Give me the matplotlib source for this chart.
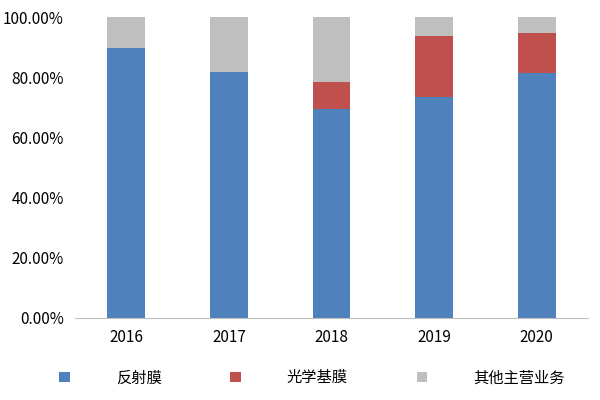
import matplotlib
matplotlib.use("Agg")
import matplotlib.pyplot as plt
import numpy as np

plt.rcParams['font.family'] = ['Noto Sans CJK SC', 'DejaVu Sans']

years = ['2016', '2017', '2018', '2019', '2020']
fanshemo = [89.7, 81.7, 69.4, 73.4, 81.4]
guangxue = [0.0, 0.0, 9.0, 20.3, 13.3]
qita = [10.3, 18.3, 21.6, 6.3, 5.3]

fig = plt.figure(figsize=(6, 4), dpi=100)
ax = fig.add_axes([0.125, 0.205, 0.855, 0.752])
x = np.arange(len(years))
w = 0.37
ax.bar(x, fanshemo, w, color='#4F81BD', label='反射膜')
ax.bar(x, guangxue, w, bottom=fanshemo, color='#C0504D', label='光学基膜')
ax.bar(x, qita, w, bottom=np.array(fanshemo) + np.array(guangxue), color='#BFBFBF', label='其他主营业务')
ax.set_ylim(0, 100)
ax.set_xlim(-0.5, 4.5)
ax.set_yticks(np.arange(0, 101, 20))
ax.set_yticklabels([f'{v:.2f}%' for v in range(0, 101, 20)], fontsize=11)
ax.set_xticks(x)
ax.set_xticklabels(years, fontsize=11)
for s in ['top', 'right', 'left']:
    ax.spines[s].set_visible(False)
ax.spines['bottom'].set_color('#BFBFBF')
ax.tick_params(axis='both', length=0, pad=8)
fig.legend(loc='lower center', ncol=3, frameon=False, fontsize=11,
           bbox_to_anchor=(0.52, 0.0), handlelength=0.7, handleheight=0.7,
           columnspacing=4.5, handletextpad=3.0)
fig.savefig('out.png')
